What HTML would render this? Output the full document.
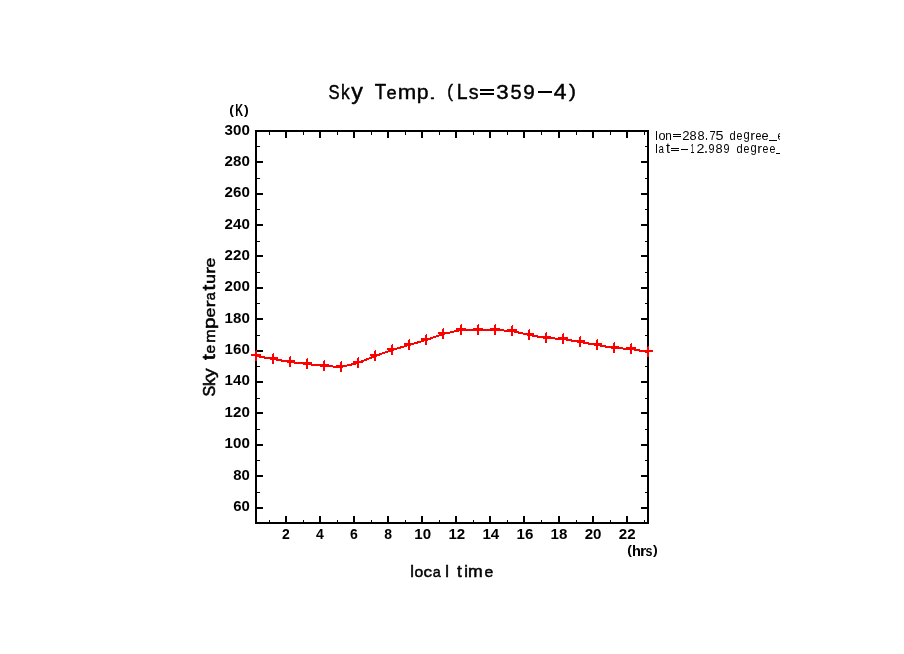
<!DOCTYPE html>
<html><head><meta charset="utf-8"><style>
html,body{margin:0;padding:0;background:#fff;}
body{width:904px;height:654px;overflow:hidden;}
svg{display:block;will-change:transform;}
text{font-family:"Liberation Sans",sans-serif;fill:#000;}
.tl{font-size:14px;font-weight:bold;}
.ti{font-size:22px;stroke:#000;stroke-width:0.45px;}
.at{font-size:17.5px;stroke:#000;stroke-width:0.55px;}
.ll{font-size:12px;}
</style></head><body>
<svg width="904" height="654" viewBox="0 0 904 654" shape-rendering="crispEdges">
<defs><clipPath id="cl"><rect x="650" y="120" width="130" height="50"/></clipPath></defs>
<rect width="904" height="654" fill="#fff"/>
<rect x="255" y="130" width="394" height="2" fill="#000"/>
<rect x="255" y="522" width="394" height="2" fill="#000"/>
<rect x="255" y="130" width="2" height="394" fill="#000"/>
<rect x="647" y="130" width="2" height="394" fill="#000"/>
<rect x="269" y="520" width="1" height="2" fill="#000"/>
<rect x="269" y="132" width="1" height="3" fill="#000"/>
<rect x="285" y="516" width="2" height="6" fill="#000"/>
<rect x="285" y="132" width="2" height="6" fill="#000"/>
<rect x="303" y="520" width="1" height="2" fill="#000"/>
<rect x="303" y="132" width="1" height="3" fill="#000"/>
<rect x="319" y="516" width="2" height="6" fill="#000"/>
<rect x="319" y="132" width="2" height="6" fill="#000"/>
<rect x="337" y="520" width="1" height="2" fill="#000"/>
<rect x="337" y="132" width="1" height="3" fill="#000"/>
<rect x="353" y="516" width="2" height="6" fill="#000"/>
<rect x="353" y="132" width="2" height="6" fill="#000"/>
<rect x="371" y="520" width="1" height="2" fill="#000"/>
<rect x="371" y="132" width="1" height="3" fill="#000"/>
<rect x="387" y="516" width="2" height="6" fill="#000"/>
<rect x="387" y="132" width="2" height="6" fill="#000"/>
<rect x="405" y="520" width="1" height="2" fill="#000"/>
<rect x="405" y="132" width="1" height="3" fill="#000"/>
<rect x="421" y="516" width="2" height="6" fill="#000"/>
<rect x="421" y="132" width="2" height="6" fill="#000"/>
<rect x="439" y="520" width="1" height="2" fill="#000"/>
<rect x="439" y="132" width="1" height="3" fill="#000"/>
<rect x="455" y="516" width="2" height="6" fill="#000"/>
<rect x="455" y="132" width="2" height="6" fill="#000"/>
<rect x="473" y="520" width="1" height="2" fill="#000"/>
<rect x="473" y="132" width="1" height="3" fill="#000"/>
<rect x="489" y="516" width="2" height="6" fill="#000"/>
<rect x="489" y="132" width="2" height="6" fill="#000"/>
<rect x="507" y="520" width="1" height="2" fill="#000"/>
<rect x="507" y="132" width="1" height="3" fill="#000"/>
<rect x="523" y="516" width="2" height="6" fill="#000"/>
<rect x="523" y="132" width="2" height="6" fill="#000"/>
<rect x="541" y="520" width="1" height="2" fill="#000"/>
<rect x="541" y="132" width="1" height="3" fill="#000"/>
<rect x="558" y="516" width="2" height="6" fill="#000"/>
<rect x="558" y="132" width="2" height="6" fill="#000"/>
<rect x="576" y="520" width="1" height="2" fill="#000"/>
<rect x="576" y="132" width="1" height="3" fill="#000"/>
<rect x="592" y="516" width="2" height="6" fill="#000"/>
<rect x="592" y="132" width="2" height="6" fill="#000"/>
<rect x="610" y="520" width="1" height="2" fill="#000"/>
<rect x="610" y="132" width="1" height="3" fill="#000"/>
<rect x="626" y="516" width="2" height="6" fill="#000"/>
<rect x="626" y="132" width="2" height="6" fill="#000"/>
<rect x="644" y="520" width="1" height="2" fill="#000"/>
<rect x="644" y="132" width="1" height="3" fill="#000"/>
<rect x="257" y="507" width="6" height="2" fill="#000"/>
<rect x="641" y="507" width="6" height="2" fill="#000"/>
<rect x="257" y="492" width="3" height="1" fill="#000"/>
<rect x="645" y="492" width="2" height="1" fill="#000"/>
<rect x="257" y="475" width="6" height="2" fill="#000"/>
<rect x="641" y="475" width="6" height="2" fill="#000"/>
<rect x="257" y="460" width="3" height="1" fill="#000"/>
<rect x="645" y="460" width="2" height="1" fill="#000"/>
<rect x="257" y="444" width="6" height="2" fill="#000"/>
<rect x="641" y="444" width="6" height="2" fill="#000"/>
<rect x="257" y="429" width="3" height="1" fill="#000"/>
<rect x="645" y="429" width="2" height="1" fill="#000"/>
<rect x="257" y="412" width="6" height="2" fill="#000"/>
<rect x="641" y="412" width="6" height="2" fill="#000"/>
<rect x="257" y="398" width="3" height="1" fill="#000"/>
<rect x="645" y="398" width="2" height="1" fill="#000"/>
<rect x="257" y="381" width="6" height="2" fill="#000"/>
<rect x="641" y="381" width="6" height="2" fill="#000"/>
<rect x="257" y="366" width="3" height="1" fill="#000"/>
<rect x="645" y="366" width="2" height="1" fill="#000"/>
<rect x="257" y="350" width="6" height="2" fill="#000"/>
<rect x="641" y="350" width="6" height="2" fill="#000"/>
<rect x="257" y="335" width="3" height="1" fill="#000"/>
<rect x="645" y="335" width="2" height="1" fill="#000"/>
<rect x="257" y="318" width="6" height="2" fill="#000"/>
<rect x="641" y="318" width="6" height="2" fill="#000"/>
<rect x="257" y="303" width="3" height="1" fill="#000"/>
<rect x="645" y="303" width="2" height="1" fill="#000"/>
<rect x="257" y="287" width="6" height="2" fill="#000"/>
<rect x="641" y="287" width="6" height="2" fill="#000"/>
<rect x="257" y="272" width="3" height="1" fill="#000"/>
<rect x="645" y="272" width="2" height="1" fill="#000"/>
<rect x="257" y="255" width="6" height="2" fill="#000"/>
<rect x="641" y="255" width="6" height="2" fill="#000"/>
<rect x="257" y="241" width="3" height="1" fill="#000"/>
<rect x="645" y="241" width="2" height="1" fill="#000"/>
<rect x="257" y="224" width="6" height="2" fill="#000"/>
<rect x="641" y="224" width="6" height="2" fill="#000"/>
<rect x="257" y="209" width="3" height="1" fill="#000"/>
<rect x="645" y="209" width="2" height="1" fill="#000"/>
<rect x="257" y="193" width="6" height="2" fill="#000"/>
<rect x="641" y="193" width="6" height="2" fill="#000"/>
<rect x="257" y="178" width="3" height="1" fill="#000"/>
<rect x="645" y="178" width="2" height="1" fill="#000"/>
<rect x="257" y="161" width="6" height="2" fill="#000"/>
<rect x="641" y="161" width="6" height="2" fill="#000"/>
<rect x="257" y="146" width="3" height="1" fill="#000"/>
<rect x="645" y="146" width="2" height="1" fill="#000"/>
<polyline points="256.0,356.0 273.0,359.0 290.0,362.0 307.0,364.0 324.0,366.0 341.0,367.0 358.0,363.0 375.0,356.0 392.0,350.0 409.0,345.0 426.0,340.0 443.0,334.0 461.0,330.0 478.0,330.0 495.0,330.0 512.0,331.0 529.0,335.0 546.0,338.0 563.0,339.0 580.0,342.0 597.0,345.0 614.0,348.0 631.0,349.0 648.0,352.0" fill="none" stroke="#f00" stroke-width="2" stroke-linejoin="round" shape-rendering="crispEdges"/>
<rect x="251.0" y="354.0" width="10" height="2" fill="#f00"/>
<rect x="255.0" y="351.0" width="2" height="10" fill="#f00"/><rect x="256.0" y="350.0" width="1" height="1" fill="#f00"/>
<rect x="268.0" y="357.0" width="10" height="2" fill="#f00"/>
<rect x="272.0" y="354.0" width="2" height="10" fill="#f00"/><rect x="273.0" y="353.0" width="1" height="1" fill="#f00"/>
<rect x="285.0" y="360.0" width="10" height="2" fill="#f00"/>
<rect x="289.0" y="357.0" width="2" height="10" fill="#f00"/><rect x="290.0" y="356.0" width="1" height="1" fill="#f00"/>
<rect x="302.0" y="362.0" width="10" height="2" fill="#f00"/>
<rect x="306.0" y="359.0" width="2" height="10" fill="#f00"/><rect x="307.0" y="358.0" width="1" height="1" fill="#f00"/>
<rect x="319.0" y="364.0" width="10" height="2" fill="#f00"/>
<rect x="323.0" y="361.0" width="2" height="10" fill="#f00"/><rect x="324.0" y="360.0" width="1" height="1" fill="#f00"/>
<rect x="336.0" y="365.0" width="10" height="2" fill="#f00"/>
<rect x="340.0" y="362.0" width="2" height="10" fill="#f00"/><rect x="341.0" y="361.0" width="1" height="1" fill="#f00"/>
<rect x="353.0" y="361.0" width="10" height="2" fill="#f00"/>
<rect x="357.0" y="358.0" width="2" height="10" fill="#f00"/><rect x="358.0" y="357.0" width="1" height="1" fill="#f00"/>
<rect x="370.0" y="354.0" width="10" height="2" fill="#f00"/>
<rect x="374.0" y="351.0" width="2" height="10" fill="#f00"/><rect x="375.0" y="350.0" width="1" height="1" fill="#f00"/>
<rect x="387.0" y="348.0" width="10" height="2" fill="#f00"/>
<rect x="391.0" y="345.0" width="2" height="10" fill="#f00"/><rect x="392.0" y="344.0" width="1" height="1" fill="#f00"/>
<rect x="404.0" y="343.0" width="10" height="2" fill="#f00"/>
<rect x="408.0" y="340.0" width="2" height="10" fill="#f00"/><rect x="409.0" y="339.0" width="1" height="1" fill="#f00"/>
<rect x="421.0" y="338.0" width="10" height="2" fill="#f00"/>
<rect x="425.0" y="335.0" width="2" height="10" fill="#f00"/><rect x="426.0" y="334.0" width="1" height="1" fill="#f00"/>
<rect x="438.0" y="332.0" width="10" height="2" fill="#f00"/>
<rect x="442.0" y="329.0" width="2" height="10" fill="#f00"/><rect x="443.0" y="328.0" width="1" height="1" fill="#f00"/>
<rect x="456.0" y="328.0" width="10" height="2" fill="#f00"/>
<rect x="460.0" y="325.0" width="2" height="10" fill="#f00"/><rect x="461.0" y="324.0" width="1" height="1" fill="#f00"/>
<rect x="473.0" y="328.0" width="10" height="2" fill="#f00"/>
<rect x="477.0" y="325.0" width="2" height="10" fill="#f00"/><rect x="478.0" y="324.0" width="1" height="1" fill="#f00"/>
<rect x="490.0" y="328.0" width="10" height="2" fill="#f00"/>
<rect x="494.0" y="325.0" width="2" height="10" fill="#f00"/><rect x="495.0" y="324.0" width="1" height="1" fill="#f00"/>
<rect x="507.0" y="329.0" width="10" height="2" fill="#f00"/>
<rect x="511.0" y="326.0" width="2" height="10" fill="#f00"/><rect x="512.0" y="325.0" width="1" height="1" fill="#f00"/>
<rect x="524.0" y="333.0" width="10" height="2" fill="#f00"/>
<rect x="528.0" y="330.0" width="2" height="10" fill="#f00"/><rect x="529.0" y="329.0" width="1" height="1" fill="#f00"/>
<rect x="541.0" y="336.0" width="10" height="2" fill="#f00"/>
<rect x="545.0" y="333.0" width="2" height="10" fill="#f00"/><rect x="546.0" y="332.0" width="1" height="1" fill="#f00"/>
<rect x="558.0" y="337.0" width="10" height="2" fill="#f00"/>
<rect x="562.0" y="334.0" width="2" height="10" fill="#f00"/><rect x="563.0" y="333.0" width="1" height="1" fill="#f00"/>
<rect x="575.0" y="340.0" width="10" height="2" fill="#f00"/>
<rect x="579.0" y="337.0" width="2" height="10" fill="#f00"/><rect x="580.0" y="336.0" width="1" height="1" fill="#f00"/>
<rect x="592.0" y="343.0" width="10" height="2" fill="#f00"/>
<rect x="596.0" y="340.0" width="2" height="10" fill="#f00"/><rect x="597.0" y="339.0" width="1" height="1" fill="#f00"/>
<rect x="609.0" y="346.0" width="10" height="2" fill="#f00"/>
<rect x="613.0" y="343.0" width="2" height="10" fill="#f00"/><rect x="614.0" y="342.0" width="1" height="1" fill="#f00"/>
<rect x="626.0" y="347.0" width="10" height="2" fill="#f00"/>
<rect x="630.0" y="344.0" width="2" height="10" fill="#f00"/><rect x="631.0" y="343.0" width="1" height="1" fill="#f00"/>
<rect x="643.0" y="350.0" width="10" height="2" fill="#f00"/>
<rect x="647.0" y="347.0" width="2" height="10" fill="#f00"/><rect x="648.0" y="346.0" width="1" height="1" fill="#f00"/>
<text class="tl" x="249.8" y="510.8" text-anchor="end" textLength="16.6" lengthAdjust="spacingAndGlyphs">60</text>
<text class="tl" x="249.8" y="479.5" text-anchor="end" textLength="16.6" lengthAdjust="spacingAndGlyphs">80</text>
<text class="tl" x="249.8" y="448.1" text-anchor="end" textLength="25.2" lengthAdjust="spacingAndGlyphs">100</text>
<text class="tl" x="249.8" y="416.7" text-anchor="end" textLength="25.2" lengthAdjust="spacingAndGlyphs">120</text>
<text class="tl" x="249.8" y="385.4" text-anchor="end" textLength="25.2" lengthAdjust="spacingAndGlyphs">140</text>
<text class="tl" x="249.8" y="354.0" text-anchor="end" textLength="25.2" lengthAdjust="spacingAndGlyphs">160</text>
<text class="tl" x="249.8" y="322.7" text-anchor="end" textLength="25.2" lengthAdjust="spacingAndGlyphs">180</text>
<text class="tl" x="249.8" y="291.3" text-anchor="end" textLength="25.2" lengthAdjust="spacingAndGlyphs">200</text>
<text class="tl" x="249.8" y="259.9" text-anchor="end" textLength="25.2" lengthAdjust="spacingAndGlyphs">220</text>
<text class="tl" x="249.8" y="228.6" text-anchor="end" textLength="25.2" lengthAdjust="spacingAndGlyphs">240</text>
<text class="tl" x="249.8" y="197.2" text-anchor="end" textLength="25.2" lengthAdjust="spacingAndGlyphs">260</text>
<text class="tl" x="249.8" y="165.9" text-anchor="end" textLength="25.2" lengthAdjust="spacingAndGlyphs">280</text>
<text class="tl" x="249.8" y="134.5" text-anchor="end" textLength="25.2" lengthAdjust="spacingAndGlyphs">300</text>
<text class="tl" x="285.8" y="539" text-anchor="middle">2</text>
<text class="tl" x="319.9" y="539" text-anchor="middle">4</text>
<text class="tl" x="354.0" y="539" text-anchor="middle">6</text>
<text class="tl" x="388.1" y="539" text-anchor="middle">8</text>
<text class="tl" x="422.7" y="539" text-anchor="middle" textLength="16.8" lengthAdjust="spacingAndGlyphs">10</text>
<text class="tl" x="456.8" y="539" text-anchor="middle" textLength="16.8" lengthAdjust="spacingAndGlyphs">12</text>
<text class="tl" x="490.8" y="539" text-anchor="middle" textLength="16.8" lengthAdjust="spacingAndGlyphs">14</text>
<text class="tl" x="524.9" y="539" text-anchor="middle" textLength="16.8" lengthAdjust="spacingAndGlyphs">16</text>
<text class="tl" x="559.0" y="539" text-anchor="middle" textLength="16.8" lengthAdjust="spacingAndGlyphs">18</text>
<text class="tl" x="593.1" y="539" text-anchor="middle" textLength="16.8" lengthAdjust="spacingAndGlyphs">20</text>
<text class="tl" x="627.2" y="539" text-anchor="middle" textLength="16.8" lengthAdjust="spacingAndGlyphs">22</text>
<text class="tl" transform=" translate(229.29 114.33) scale(1.012 0.920)">(</text>
<text class="tl" transform=" translate(235.28 116.00) scale(0.774 1.142)">K</text>
<text class="tl" transform=" translate(243.99 114.33) scale(1.012 0.920)">)</text>
<text class="tl" transform=" translate(627.29 554.33) scale(1.012 0.920)">(</text>
<text class="tl" transform=" translate(631.98 556.00) scale(1.044 1.084)">h</text>
<text class="tl" transform=" translate(639.93 556.00) scale(1.159 1.061)">r</text>
<text class="tl" transform=" translate(645.56 555.86) scale(0.893 1.042)">s</text>
<text class="tl" transform=" translate(652.99 554.33) scale(1.012 0.920)">)</text>
<text class="ti" transform=" translate(328.47 98.58) scale(0.755 0.935)">S</text>
<text class="ti" transform=" translate(341.05 98.78) scale(0.792 0.913)">k</text>
<text class="ti" transform=" translate(351.16 99.39) scale(1.060 0.961)">y</text>
<text class="ti" transform=" translate(374.80 98.78) scale(0.849 0.962)">T</text>
<text class="ti" transform=" translate(386.45 98.59) scale(0.829 0.876)">e</text>
<text class="ti" transform=" translate(397.75 98.78) scale(1.009 0.892)">m</text>
<text class="ti" transform=" translate(416.85 99.45) scale(0.966 0.949)">p</text>
<text class="ti" transform=" translate(428.83 98.78) scale(1.200 0.663)">.</text>
<text class="ti" transform=" translate(447.15 96.88) scale(0.782 0.857)">(</text>
<text class="ti" transform=" translate(456.63 98.78) scale(0.882 0.962)">L</text>
<text class="ti" transform=" translate(468.67 98.59) scale(0.892 0.878)">s</text>
<text class="ti" transform=" translate(496.37 98.58) scale(1.012 0.935)">3</text>
<text class="ti" transform=" translate(510.41 98.58) scale(0.917 0.948)">5</text>
<text class="ti" transform=" translate(523.25 98.58) scale(0.941 0.935)">9</text>
<text class="ti" transform=" translate(553.69 98.78) scale(1.043 0.962)">4</text>
<text class="ti" transform=" translate(569.10 96.88) scale(0.953 0.857)">)</text>
<rect x="480" y="89" width="14" height="2"/><rect x="480" y="93" width="14" height="2"/><rect x="538" y="91" width="14" height="2"/>
<rect x="673" y="134" width="8" height="1"/><rect x="673" y="136" width="8" height="1"/><rect x="671" y="148" width="8" height="1"/><rect x="671" y="150" width="8" height="1"/><rect x="681" y="149" width="7" height="1"/>
<text class="at" transform=" translate(410.15 576.73) scale(0.944 0.977)">l</text>
<text class="at" transform=" translate(414.61 576.58) scale(0.898 0.877)">o</text>
<text class="at" transform=" translate(423.53 576.58) scale(0.983 0.877)">c</text>
<text class="at" transform=" translate(432.65 576.58) scale(0.825 0.877)">a</text>
<text class="at" transform=" translate(445.15 576.73) scale(0.944 0.977)">l</text>
<text class="at" transform=" translate(457.01 576.59) scale(0.992 0.995)">t</text>
<text class="at" transform=" translate(464.16 576.73) scale(0.944 0.899)">i</text>
<text class="at" transform=" translate(468.09 576.73) scale(1.010 0.893)">m</text>
<text class="at" transform=" translate(484.59 576.58) scale(0.903 0.877)">e</text>
<text class="at" transform="translate(215 0) rotate(-90) translate(-396.48 -0.44) scale(0.923 0.989)">S</text>
<text class="at" transform="translate(215 0) rotate(-90) translate(-385.89 -0.27) scale(0.965 0.966)">k</text>
<text class="at" transform="translate(215 0) rotate(-90) translate(-377.78 0.22) scale(1.072 0.951)">y</text>
<text class="at" transform="translate(215 0) rotate(-90) translate(-360.05 -0.42) scale(1.200 1.070)">t</text>
<text class="at" transform="translate(215 0) rotate(-90) translate(-353.41 -0.42) scale(0.893 0.868)">e</text>
<text class="at" transform="translate(215 0) rotate(-90) translate(-342.82 -0.27) scale(0.919 0.883)">m</text>
<text class="at" transform="translate(215 0) rotate(-90) translate(-329.09 0.26) scale(1.182 0.939)">p</text>
<text class="at" transform="translate(215 0) rotate(-90) translate(-317.50 -0.42) scale(1.013 0.868)">e</text>
<text class="at" transform="translate(215 0) rotate(-90) translate(-307.59 -0.27) scale(1.200 0.883)">r</text>
<text class="at" transform="translate(215 0) rotate(-90) translate(-300.35 -0.42) scale(0.816 0.868)">a</text>
<text class="at" transform="translate(215 0) rotate(-90) translate(-290.55 -0.42) scale(1.200 1.070)">t</text>
<text class="at" transform="translate(215 0) rotate(-90) translate(-283.87 -0.42) scale(0.987 0.883)">u</text>
<text class="at" transform="translate(215 0) rotate(-90) translate(-274.09 -0.27) scale(1.200 0.883)">r</text>
<text class="at" transform="translate(215 0) rotate(-90) translate(-267.50 -0.42) scale(1.013 0.868)">e</text>
<g clip-path="url(#cl)">
<text class="ll" transform=" translate(655.23 140.00) scale(0.948 1.035)">l</text>
<text class="ll" transform=" translate(658.47 139.88) scale(1.059 1.065)">o</text>
<text class="ll" transform=" translate(665.22 140.00) scale(0.981 1.084)">n</text>
<text class="ll" transform=" translate(682.34 140.00) scale(1.098 1.074)">2</text>
<text class="ll" transform=" translate(689.44 139.88) scale(1.066 1.059)">8</text>
<text class="ll" transform=" translate(697.44 139.88) scale(1.066 1.059)">8</text>
<text class="ll" transform=" translate(705.04 140.00) scale(0.875 1.559)">.</text>
<text class="ll" transform=" translate(709.44 140.00) scale(0.917 1.090)">7</text>
<text class="ll" transform=" translate(715.51 139.87) scale(1.200 1.075)">5</text>
<text class="ll" transform=" translate(729.53 139.88) scale(0.927 1.021)">d</text>
<text class="ll" transform=" translate(736.55 139.88) scale(0.888 1.065)">e</text>
<text class="ll" transform=" translate(743.53 139.49) scale(0.927 1.008)">g</text>
<text class="ll" transform=" translate(750.24 140.00) scale(1.200 1.084)">r</text>
<text class="ll" transform=" translate(755.55 139.88) scale(0.888 1.065)">e</text>
<text class="ll" transform=" translate(761.46 139.88) scale(1.066 1.065)">e</text>
<text class="ll" transform=" translate(777.55 139.88) scale(0.888 1.065)">e</text>
<text class="ll" transform=" translate(655.23 153.00) scale(0.948 1.035)">l</text>
<text class="ll" transform=" translate(658.59 152.88) scale(0.811 1.065)">a</text>
<text class="ll" transform=" translate(665.94 152.89) scale(1.200 1.146)">t</text>
<text class="ll" transform=" translate(690.47 153.00) scale(0.580 1.090)">1</text>
<text class="ll" transform=" translate(696.50 153.00) scale(1.200 1.074)">2</text>
<text class="ll" transform=" translate(704.00 153.00) scale(1.200 1.559)">.</text>
<text class="ll" transform=" translate(708.49 152.88) scale(0.902 1.059)">9</text>
<text class="ll" transform=" translate(715.44 152.88) scale(1.066 1.059)">8</text>
<text class="ll" transform=" translate(723.49 152.88) scale(0.902 1.059)">9</text>
<text class="ll" transform=" translate(736.53 152.88) scale(0.927 1.021)">d</text>
<text class="ll" transform=" translate(743.55 152.88) scale(0.888 1.065)">e</text>
<text class="ll" transform=" translate(750.53 152.49) scale(0.927 1.008)">g</text>
<text class="ll" transform=" translate(757.24 153.00) scale(1.200 1.084)">r</text>
<text class="ll" transform=" translate(762.55 152.88) scale(0.888 1.065)">e</text>
<text class="ll" transform=" translate(769.55 152.88) scale(0.888 1.065)">e</text>
<rect x="769" y="140" width="8" height="1" fill="#000"/><rect x="776" y="153" width="8" height="1" fill="#000"/></g>
</svg>
</body></html>
